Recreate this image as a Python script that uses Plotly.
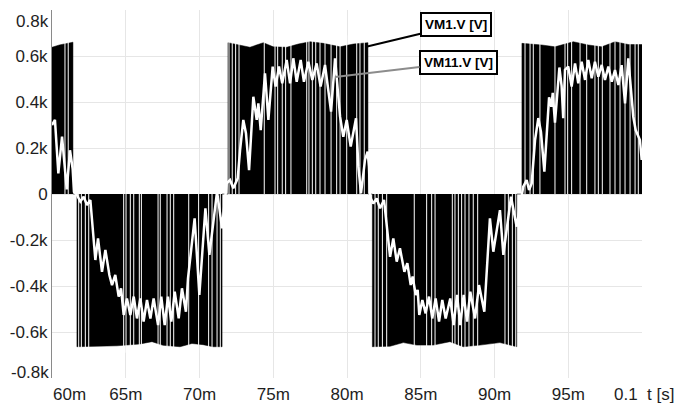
import plotly.graph_objects as go

# ---- VM1.V : PWM output voltage (outline of switching blocks, V) ----
vm1_env_t = [60.00, 60.00, 60.50, 61.00, 61.42, 61.42,
             61.69, 61.69, 63.25, 64.41, 65.97, 66.78, 67.53, 68.68, 69.49, 70.24, 70.92, 71.53, 71.53,
             71.93, 71.93, 72.75, 73.42, 74.33, 75.00, 75.91, 76.70, 77.49, 78.39, 79.53, 80.43, 81.42, 81.42,
             81.72, 81.72, 82.92, 83.82, 84.73, 85.85, 86.98, 87.88, 89.02, 90.37, 91.51, 91.51,
             91.86, 91.86, 93.20, 94.10, 95.34, 96.36, 97.27, 98.17, 99.07, 100.0]
vm1_env_v = [0, 638, 648, 655, 660, 0,
             0, -664, -662, -660, -652, -642, -658, -664, -650, -655, -664, -664, 0,
             0, 658, 648, 638, 658, 640, 638, 652, 662, 655, 640, 652, 658, 0,
             0, -664, -662, -646, -657, -657, -642, -664, -657, -646, -664, 0,
             0, 655, 648, 640, 662, 648, 640, 662, 650, 650]

# zero-voltage intervals visible inside the switching blocks (ms)
vm1_gaps_pos = [60.88, 61.10,
                72.00, 72.22, 72.45, 72.68, 74.39, 75.12, 75.30, 75.61, 75.84, 76.20, 77.27, 77.42,
                77.65, 77.88, 78.17, 78.51, 78.92, 79.30, 79.53, 79.98, 80.66, 80.88, 81.17,
                92.07, 92.41, 92.63, 93.08, 94.10, 94.78, 94.96, 95.23, 95.80, 96.25, 96.81, 97.04,
                97.31, 97.83, 98.17, 98.51, 98.85, 99.19, 99.53, 99.75]
vm1_gaps_neg = [61.81, 61.99, 62.26, 62.49, 64.86, 65.02, 65.31, 65.54, 65.92, 66.06, 67.19, 67.34,
                67.80, 68.02, 68.25, 69.27, 69.94, 70.62, 70.85, 71.19, 71.41,
                81.90, 82.12, 82.40, 82.69, 84.56, 85.40, 85.74, 85.97, 87.14, 87.32, 87.55, 87.77,
                88.00, 88.27, 88.56, 88.86, 90.71, 90.94, 91.21, 91.44]

# ---- VM11.V : filtered voltage (ms, V) ----
vm11_t = [60.00, 60.20, 60.43, 60.68, 61.00, 61.22, 61.40, 61.49,
          61.69, 61.92, 62.15, 62.37, 62.60, 62.94, 63.12, 63.39, 63.62, 63.89, 64.07, 64.29,
          64.52, 64.68, 64.86, 65.08, 65.31, 65.54, 65.76, 65.99, 66.21, 66.44, 66.67, 66.89,
          67.19, 67.41, 67.64, 67.86, 68.09, 68.32, 68.59, 68.81, 69.08, 69.22, 69.67, 69.99,
          70.40, 70.67, 71.19, 71.53,
          71.84, 72.07, 72.29, 72.59, 72.75, 72.97, 73.15, 73.36, 73.65, 73.88, 73.99, 74.15,
          74.44, 74.67, 74.96, 75.16, 75.39, 75.61, 75.91, 76.14, 76.36, 76.59, 76.86, 77.08,
          77.38, 77.65, 77.94, 78.21, 78.51, 78.73, 78.92, 79.19, 79.53, 79.75, 79.98, 80.25,
          80.61, 80.77, 80.95, 81.22, 81.40, 81.49,
          81.56, 81.78, 82.01, 82.24, 82.51, 82.92, 83.14, 83.37, 83.59, 83.89, 84.09, 84.32,
          84.45, 84.66, 84.79, 84.90, 85.11, 85.33, 85.56, 85.78, 86.01, 86.24, 86.46, 86.69,
          87.00, 87.23, 87.46, 87.68, 87.91, 88.14, 88.36, 88.68, 88.95, 89.31, 89.69, 89.92,
          90.37, 90.60, 91.12, 91.50,
          91.95, 92.18, 92.34, 92.52, 92.75, 92.97, 93.15, 93.38, 93.70, 93.85, 93.95, 94.10,
          94.40, 94.55, 94.66, 94.78, 95.00, 95.23, 95.46, 95.68, 95.91, 96.14, 96.36, 96.59,
          96.81, 97.04, 97.27, 97.49, 97.72, 97.95, 98.17, 98.40, 98.62, 98.85, 99.07, 99.41,
          99.57, 99.86, 99.98]
vm11_v = [300, 322, 90, 250, 20, 190, 110, 10,
          -4, -33, -12, -48, -26, -287, -193, -338, -243, -352, -396, -352,
          -446, -410, -526, -454, -526, -446, -541, -454, -555, -461, -541, -454,
          -570, -446, -570, -446, -555, -425, -541, -410, -512, -367, -106, -439,
          -62, -265, 10, -149,
          46, 61, 25, 68, 191, 322, 264, 104, 423, 322, 394, 278,
          525, 322, 554, 467, 554, 481, 583, 481, 590, 488, 583, 488,
          575, 496, 568, 467, 561, 438, 358, 590, 336, 249, 322, 206,
          329, 119, 3, 148, 184, 119,
          -12, -41, -19, -62, -26, -273, -193, -294, -236, -338, -301, -396,
          -359, -439, -417, -526, -461, -519, -446, -541, -454, -555, -461, -541,
          -454, -570, -439, -570, -439, -555, -425, -541, -396, -512, -106, -251,
          -70, -265, -12, -142,
          32, 61, 17, 46, 235, 330, 270, 97, 420, 380, 440, 310,
          550, 470, 330, 540, 554, 467, 568, 481, 575, 496, 583, 503,
          575, 510, 561, 496, 554, 488, 539, 474, 560, 394, 590, 336,
          278, 235, 148]

# ---- axes ----
x_ticks = [65, 70, 75, 80, 85, 90, 95]
x_ticktext = ["65m", "70m", "75m", "80m", "85m", "90m", "95m"]
y_ticks = [-600, -400, -200, 0, 200, 400, 600]
y_ticktext = ["-0.6k", "-0.4k", "-0.2k", "0", "0.2k", "0.4k", "0.6k"]

FONT = "Liberation Sans, Arial, sans-serif"
TICK_FONT = dict(family=FONT, size=17, color="#1e1e1e")

fig = go.Figure()

# black switching blocks
fig.add_trace(go.Scatter(x=vm1_env_t, y=vm1_env_v, mode="lines",
                         line=dict(color="black", width=0.5),
                         fill="tozeroy", fillcolor="black", hoverinfo="skip"))

# zero intervals inside blocks
gx, gy = [], []
for g in vm1_gaps_pos:
    gx += [g, g, None]
    gy += [0, 690, None]
for g in vm1_gaps_neg:
    gx += [g, g, None]
    gy += [0, -690, None]
fig.add_trace(go.Scatter(x=gx, y=gy, mode="lines",
                         line=dict(color="white", width=1), hoverinfo="skip"))

# filtered voltage
fig.add_trace(go.Scatter(x=vm11_t, y=vm11_v, mode="lines",
                         line=dict(color="white", width=2.5)))

fig.update_layout(
    width=678, height=407,
    margin=dict(l=52, r=36, t=10, b=29),
    plot_bgcolor="white", paper_bgcolor="white",
    showlegend=False,
    font=TICK_FONT,
)
fig.update_xaxes(range=[60, 100], tickvals=x_ticks, ticktext=x_ticktext,
                 showgrid=True, gridcolor="#e6e6e6", gridwidth=1,
                 zeroline=False, showline=False, ticks="", tickfont=TICK_FONT,
                 ticklabelstandoff=4, automargin=False)
fig.update_yaxes(range=[-800, 800], tickvals=y_ticks, ticktext=y_ticktext,
                 showgrid=True, gridcolor="#e6e6e6", gridwidth=1,
                 zeroline=False, showline=True, linecolor="#8a8a8a", linewidth=1,
                 ticks="", tickfont=TICK_FONT, automargin=False)

# end-of-axis labels pulled inside the plot area
edge = dict(showarrow=False, font=TICK_FONT)
fig.add_annotation(x=0, xref="paper", xanchor="right", xshift=-1,
                   y=800, yref="y", yanchor="middle", yshift=-11, text="0.8k", **edge)
fig.add_annotation(x=0, xref="paper", xanchor="right", xshift=-1,
                   y=-800, yref="y", yanchor="middle", yshift=6, text="-0.8k", **edge)
fig.add_annotation(x=60, xref="x", xanchor="left", xshift=-1,
                   y=0, yref="paper", yanchor="top", yshift=-5, text="60m", **edge)
fig.add_annotation(x=100, xref="x", xanchor="right", xshift=-2,
                   y=0, yref="paper", yanchor="top", yshift=-5, text="0.1", **edge)
fig.add_annotation(x=100, xref="x", xanchor="left", xshift=3,
                   y=0, yref="paper", yanchor="top", yshift=-5, text="t [s]", **edge)

# trace labels with leader lines
lab_font = dict(family=FONT, size=13.5, color="black")
fig.add_annotation(x=81.3, y=640, ax=87.42, ay=735, axref="x", ayref="y",
                   text="<b>VM1.V [V]</b>", font=lab_font, showarrow=True,
                   arrowhead=0, arrowwidth=2, arrowcolor="black",
                   bgcolor="white", bordercolor="black", borderwidth=2, borderpad=3)
fig.add_annotation(x=79.19, y=509, ax=87.53, ay=572, axref="x", ayref="y",
                   text="<b>VM11.V [V]</b>", font=lab_font, showarrow=True,
                   arrowhead=0, arrowwidth=2, arrowcolor="#8c8c8c",
                   bgcolor="white", bordercolor="black", borderwidth=2, borderpad=3)

fig.write_html("out.html")
